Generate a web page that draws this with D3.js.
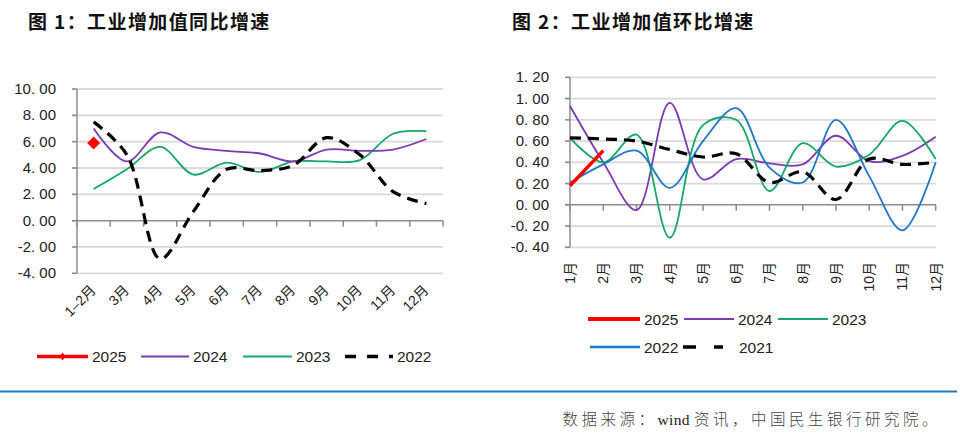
<!DOCTYPE html>
<html><head><meta charset="utf-8">
<script src="https://cdn.jsdelivr.net/npm/d3@7/dist/d3.min.js"></script>
<style>body{margin:0;background:#fff}svg{display:block}</style>
</head><body>
<svg id="c" width="960" height="442"></svg>
<script>
// ---- Data: Figure 1 (YoY) ----
const catsL = ["1–2月","3月","4月","5月","6月","7月","8月","9月","10月","11月","12月"];
const yoy2025 = [5.9];
const yoy2024 = [7.0,4.5,6.7,5.6,5.3,5.1,4.5,5.4,5.3,5.4,6.2];
const yoy2023 = [2.4,3.9,5.6,3.5,4.4,3.7,4.5,4.5,4.6,6.6,6.8];
const yoy2022 = [7.5,5.0,-2.9,0.7,3.9,3.8,4.2,6.3,5.0,2.2,1.3];
const ticksL = [10,8,6,4,2,0,-2,-4];
// ---- Data: Figure 2 (MoM) ----
const catsR = ["1月","2月","3月","4月","5月","6月","7月","8月","9月","10月","11月","12月"];
const mom2025 = [0.18,0.51];
const mom2024 = [0.93,0.40,-0.05,0.96,0.24,0.43,0.39,0.38,0.65,0.41,0.46,0.64];
const mom2023 = [0.63,0.40,0.66,-0.31,0.75,0.80,0.13,0.58,0.36,0.47,0.79,0.43];
const mom2022 = [0.21,0.38,0.51,0.16,0.60,0.91,0.35,0.21,0.80,0.27,-0.24,0.40];
const mom2021 = [0.63,0.62,0.60,0.52,0.45,0.48,0.21,0.31,0.05,0.43,0.38,0.40];
const ticksR = [1.2,1.0,0.8,0.6,0.4,0.2,0,-0.2,-0.4];

const C = {red:"#FF0000", purple:"#7B3AB4", green:"#16A868", blue:"#1E78C8", black:"#000"};
const svg = d3.select("#c");
const fmt = v => { const s = d3.format(".2f")(v).replace("−","-"); return s.replace(".", ". "); };
const FONT = "'Liberation Sans', Arial, 'Noto Sans CJK SC', sans-serif";
const CJK = "'Noto Sans CJK SC', sans-serif";

// shadow filter
const defs = svg.append("defs");
const f = defs.append("filter").attr("id","sh").attr("x","-5%").attr("y","-100%").attr("width","110%").attr("height","400%");
f.append("feGaussianBlur").attr("in","SourceAlpha").attr("stdDeviation",2);
f.append("feOffset").attr("dy",2).attr("result","b");
f.append("feComponentTransfer").append("feFuncA").attr("type","linear").attr("slope",0.25);
const fm = f.append("feMerge"); fm.append("feMergeNode"); fm.append("feMergeNode").attr("in","SourceGraphic");

// titles
function title(x0, txt){
  svg.append("text").attr("x",x0).attr("y",29).attr("font-size",19).attr("fill","#111").attr("font-weight",600)
    .attr("font-family",CJK).attr("letter-spacing",1.4).text(txt);
}
title(28,"图 1：工业增加值同比增速");
title(512,"图 2：工业增加值环比增速");
svg.append("line").attr("x1",0).attr("x2",960).attr("y1",41).attr("y2",41).attr("stroke","#1E78C8").attr("stroke-width",2.2).attr("filter","url(#sh)");
svg.append("line").attr("x1",0).attr("x2",957).attr("y1",391.5).attr("y2",391.5).attr("stroke","#1E78C8").attr("stroke-width",2.2);
const ft = svg.append("text").attr("x",941).attr("y",425).attr("text-anchor","end").attr("font-size",15.5).attr("fill","#444").attr("letter-spacing",3.5).attr("font-family",CJK).attr("font-weight",300);
ft.append("tspan").text("数据来源：");
ft.append("tspan").attr("font-family","'Liberation Serif', serif").attr("font-weight",400).attr("letter-spacing",0.3).attr("fill","#222").text("wind ");
ft.append("tspan").text("资讯，中国民生银行研究院。");

// ---------- Left chart ----------
const xL = d3.scaleBand().domain(catsL).range([77,443]);
const yL = d3.scaleLinear().domain([-4,10]).range([273.3,89]);
const gL = svg.append("g");
ticksL.forEach(t => {
  gL.append("line").attr("x1",72).attr("x2",443).attr("y1",yL(t)).attr("y2",yL(t)).attr("stroke", t===0?"#8c8c8c":"#d9d9d9").attr("stroke-width",t===0?1.5:1.8);
  gL.append("line").attr("x1",72).attr("x2",77).attr("y1",yL(t)).attr("y2",yL(t)).attr("stroke","#8c8c8c").attr("stroke-width",1.5);
  gL.append("text").attr("x",56).attr("y",yL(t)+5).attr("text-anchor","end").attr("font-family",FONT).attr("font-size",15).attr("fill","#222").text(fmt(t));
});
gL.append("line").attr("x1",77).attr("x2",77).attr("y1",yL(10)).attr("y2",yL(-4)).attr("stroke","#8c8c8c").attr("stroke-width",1.5);
catsL.concat([null]).forEach((c,i) => {
  const x = c===null ? xL.range()[1] : xL(c);
  gL.append("line").attr("x1",x).attr("x2",x).attr("y1",yL(0)).attr("y2",yL(0)+6).attr("stroke","#8c8c8c").attr("stroke-width",1.5);
});
catsL.forEach(c => {
  const x = xL(c)+xL.bandwidth()/2;
  gL.append("text").attr("transform",`translate(${x+3},${291}) rotate(-45)`).attr("text-anchor","end").attr("font-family",FONT).attr("font-size",14).attr("fill","#222").text(c);
});
const lineL = d3.line().x((d,i)=>xL(catsL[i])+xL.bandwidth()/2).y(d=>yL(d)).curve(d3.curveCatmullRom.alpha(0.5));
gL.append("path").attr("d",lineL(yoy2023)).attr("fill","none").attr("stroke",C.green).attr("stroke-width",1.8);
gL.append("path").attr("d",lineL(yoy2024)).attr("fill","none").attr("stroke",C.purple).attr("stroke-width",1.8);
gL.append("path").attr("d",lineL(yoy2022)).attr("fill","none").attr("stroke",C.black).attr("stroke-width",3.2).attr("stroke-dasharray","11,7");
yoy2025.forEach((v,i)=>{
  const x = xL(catsL[i])+xL.bandwidth()/2, y=yL(v);
  gL.append("path").attr("d",`M${x},${y-6.5}L${x+6.5},${y}L${x},${y+6.5}L${x-6.5},${y}Z`).attr("fill",C.red);
});

// left legend
const legL = [{k:"2025",c:C.red,x:37,w:51,sw:3.5,m:true},{k:"2024",c:C.purple,x:141,w:48,sw:2},{k:"2023",c:C.green,x:243,w:49,sw:2},{k:"2022",c:C.black,x:345,w:48,sw:3.5,d:"11,11"}];
legL.forEach(o=>{
  const y=356.5;
  gL.append("line").attr("x1",o.x).attr("x2",o.x+o.w).attr("y1",y).attr("y2",y).attr("stroke",o.c).attr("stroke-width",o.sw).attr("stroke-dasharray",o.d||null);
  if(o.m){const mx=o.x+o.w/2; gL.append("path").attr("d",`M${mx},${y-4}L${mx+3},${y}L${mx},${y+4}L${mx-3},${y}Z`).attr("fill",o.c);}
  gL.append("text").attr("x",o.x+o.w+4).attr("y",y+5.5).attr("font-family",FONT).attr("font-size",15.5).attr("fill","#222").text(o.k);
});

// ---------- Right chart ----------
const xR = d3.scalePoint().domain(catsR).range([570,935.7]);
const yR = d3.scaleLinear().domain([-0.4,1.2]).range([247.3,77.3]);
const gR = svg.append("g");
ticksR.forEach(t => {
  gR.append("line").attr("x1",565).attr("x2",936).attr("y1",yR(t)).attr("y2",yR(t)).attr("stroke", Math.abs(t)<1e-9?"#8c8c8c":"#d9d9d9").attr("stroke-width",Math.abs(t)<1e-9?1.5:1.8);
  gR.append("line").attr("x1",565).attr("x2",570).attr("y1",yR(t)).attr("y2",yR(t)).attr("stroke","#8c8c8c").attr("stroke-width",1.5);
  gR.append("text").attr("x",549).attr("y",yR(t)+5).attr("text-anchor","end").attr("font-family",FONT).attr("font-size",15).attr("fill","#222").text(fmt(t));
});
gR.append("line").attr("x1",570).attr("x2",570).attr("y1",yR(1.2)).attr("y2",yR(-0.4)).attr("stroke","#8c8c8c").attr("stroke-width",1.5);
catsR.forEach(c=>{
  const x=xR(c);
  gR.append("line").attr("x1",x).attr("x2",x).attr("y1",yR(0)).attr("y2",yR(0)+6).attr("stroke","#8c8c8c").attr("stroke-width",1.5);
  gR.append("text").attr("transform",`translate(${x+5},${262}) rotate(-90)`).attr("text-anchor","end").attr("font-family",FONT).attr("font-size",14).attr("fill","#222").text(c);
});
const lineR = d3.line().x((d,i)=>xR(catsR[i])).y(d=>yR(d)).curve(d3.curveCatmullRom.alpha(0.5));
gR.append("path").attr("d",lineR(mom2024)).attr("fill","none").attr("stroke",C.purple).attr("stroke-width",1.8);
gR.append("path").attr("d",lineR(mom2023)).attr("fill","none").attr("stroke",C.green).attr("stroke-width",1.8);
gR.append("path").attr("d",lineR(mom2022)).attr("fill","none").attr("stroke",C.blue).attr("stroke-width",1.8);
gR.append("path").attr("d",lineR(mom2021)).attr("fill","none").attr("stroke",C.black).attr("stroke-width",3.2).attr("stroke-dasharray","11,7");
gR.append("path").attr("d",d3.line().x((d,i)=>xR(catsR[i])).y(d=>yR(d))(mom2025)).attr("fill","none").attr("stroke",C.red).attr("stroke-width",3.5);

const legR = [{k:"2025",c:C.red,x:588,y:319,w:52,sw:4},{k:"2024",c:C.purple,x:684,y:319,w:50,sw:2},{k:"2023",c:C.green,x:778,y:319,w:50,sw:2},
              {k:"2022",c:C.blue,x:590,y:347,w:50,sw:2.5},{k:"2021",c:C.black,x:683,y:347,w:40,sw:3.5,d:"13,18",tx:739}];
legR.forEach(o=>{
  gR.append("line").attr("x1",o.x).attr("x2",o.x+o.w).attr("y1",o.y).attr("y2",o.y).attr("stroke",o.c).attr("stroke-width",o.sw).attr("stroke-dasharray",o.d||null);
  gR.append("text").attr("x",o.tx||o.x+o.w+4).attr("y",o.y+5.5).attr("font-family",FONT).attr("font-size",15.5).attr("fill","#222").text(o.k);
});
</script>
</body></html>
